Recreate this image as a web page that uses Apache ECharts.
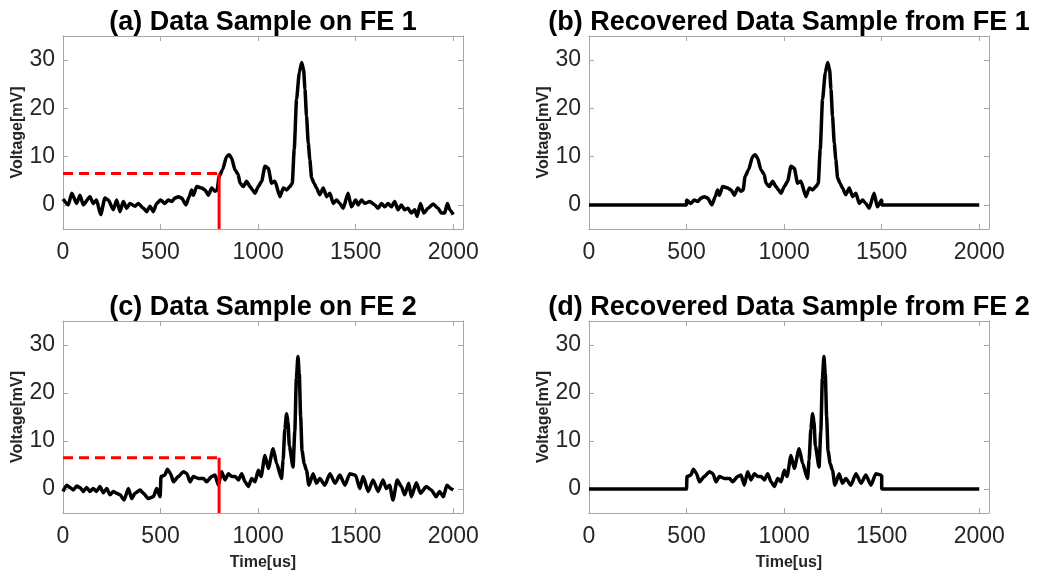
<!DOCTYPE html>
<html>
<head>
<meta charset="utf-8">
<script src="https://cdn.jsdelivr.net/npm/echarts@6/dist/echarts.min.js"></script>
<style>
  html, body { margin: 0; padding: 0; background: #fff; }
  #chart { width: 1040px; height: 575px; }
</style>
</head>
<body>
<div id="chart"></div>
<script>
// FE 1 raw sample (time in us, voltage in mV)
var fe1Time = [0, 27, 45, 70, 87, 104, 138, 155, 172, 193, 215, 232, 258, 275, 292, 309, 326, 343, 369, 386,
  412, 429, 446, 463, 480, 500, 522, 540, 557, 574, 591, 608, 630, 647, 659, 668, 685, 710, 728, 745,
  762, 779, 790, 800, 818, 838, 852, 864, 881, 898, 907, 924, 941, 958, 970, 984, 1001, 1018, 1035, 1052,
  1069, 1086, 1112, 1129, 1146, 1163, 1175, 1185, 1197, 1211, 1223, 1233, 1240, 1248, 1257, 1265, 1274, 1287, 1299, 1316,
  1334, 1351, 1368, 1385, 1402, 1419, 1436, 1461, 1478, 1500, 1513, 1530, 1547, 1572, 1598, 1615, 1632, 1649, 1666, 1683,
  1700, 1717, 1734, 1751, 1768, 1785, 1803, 1815, 1832, 1849, 1871, 1897, 1922, 1939, 1956, 1970, 1982, 2000];
var fe1Volt = [1.2, 0, 2.4, 0.3, 2, 0, 1.7, 0.3, 1, -2, 1.4, 1, -1, 1, -1.4, 0.7, -0.7, 0.3, -0.3, 0.3,
  -0.7, -1.4, -0.3, -1.4, 0.3, 1, 0.3, 1, 0.7, 1.4, 1.7, 1.4, 0, 1.7, 3.1, 2, 3.8, 3.5, 3.1, 2,
  3.5, 2.8, 3.1, 5.9, 7.3, 10, 10.4, 9.7, 7.3, 6.3, 4.5, 3.8, 4.9, 3.8, 3.2, 2.4, 3.8, 4.9, 8, 7.6,
  4.5, 4.9, 1.7, 3.5, 3.1, 3.8, 4.5, 11.5, 21.9, 27.4, 29.5, 28.1, 24, 18.4, 12.8, 9.4, 5.6, 4.5, 3.5, 2.1,
  3.5, 1.7, 2.4, 0.3, 1, 0.3, -0.7, 2.4, -0.4, 1, 0, 1, 0.3, 0.7, 0, -0.7, 0.3, -0.4, 0.3, -0.4,
  0.7, -1, 0, -1, -0.7, -1.7, -1, -2.4, 0.3, -1.7, -0.7, 0.2, -0.7, -1.7, -1.7, 0.3, -1, -2];

// FE 2 raw sample
var fe2Time = [0, 19, 36, 53, 70, 87, 104, 121, 138, 155, 172, 189, 207, 224, 241, 258, 275, 292, 313, 335,
  352, 369, 395, 412, 437, 463, 480, 498, 502, 522, 535, 551, 566, 591, 617, 635, 651, 668, 694, 720,
  736, 762, 779, 796, 813, 830, 848, 865, 882, 899, 916, 933, 950, 967, 984, 1001, 1015, 1035, 1052, 1077,
  1095, 1120, 1128, 1137, 1146, 1153, 1160, 1179, 1188, 1196, 1204, 1211, 1218, 1225, 1236, 1248, 1260, 1282, 1299, 1316,
  1342, 1368, 1394, 1419, 1445, 1470, 1496, 1500, 1521, 1538, 1564, 1589, 1615, 1640, 1657, 1674, 1691, 1713, 1734, 1751,
  1772, 1785, 1811, 1832, 1862, 1887, 1913, 1930, 1950, 1967, 1990, 2000];
var fe2Volt = [-0.5, 0.8, 0.3, -0.2, 0.6, 0.3, -0.5, 0.3, -0.5, 0.1, -0.5, 0.5, -0.8, 0.1, -1.2, -0.5, -0.9, -1.2, -2.3, 0.1,
  -2, -0.9, -0.2, -0.9, -2, -1.6, 0.1, -1.6, 2.6, 2.9, 4.1, 3.2, 1.5, 2.6, 3.6, 3.2, 1.5, 2.6, 2.2, 2.2,
  1.5, 2.6, 2.9, 0.8, 3.6, 1.9, 3.2, 2.6, 2.6, 1.9, 3.2, 1.5, 0.5, 2.2, 1.5, 3.9, 2.6, 7, 4.3, 8.4,
  5.3, 2.2, 6, 12.5, 15.7, 14, 9, 4.6, 12, 23, 27.6, 24, 15, 8, 5.3, 3.9, 0.8, 3.2, 1.2, 2.2,
  0.8, 3.2, 1.2, 2.9, 0.8, 3.2, 2.9, 2.8, 0.1, 2.6, -0.5, 1.9, -0.5, 1.9, 0.1, 0.8, -2.3, 1.9, 0.5, -1.2,
  1.2, -1.6, 1.3, -0.9, 0.5, -0.2, -1.6, -0.5, -1.6, 0.8, 0, -0.2];

// recovery window and trigger marker
var windowStart = 500, windowEnd = 1500;
var triggerTime = 800, triggerLevel = 6.5;

var titles = ['(a) Data Sample on FE 1', '(b) Recovered Data Sample from FE 1',
              '(c) Data Sample on FE 2', '(d) Recovered Data Sample from FE 2'];

function pairs(t, v) {
  return t.map(function (x, i) { return [x, v[i]]; });
}
// keep only the samples inside the recovery window, zero elsewhere
function recovered(t, v) {
  var out = [[0, 0], [windowStart, 0]];
  t.forEach(function (x, i) {
    if (x >= windowStart && x <= windowEnd) out.push([x, v[i]]);
  });
  out.push([windowEnd, 0], [2000, 0]);
  return out;
}

var panelData = [
  pairs(fe1Time, fe1Volt),
  recovered(fe1Time, fe1Volt),
  pairs(fe2Time, fe2Volt),
  recovered(fe2Time, fe2Volt)
];

var grids = [
  { left: 63, top: 36, width: 400, height: 193 },
  { left: 589, top: 36, width: 400, height: 193 },
  { left: 63, top: 321, width: 400, height: 192 },
  { left: 589, top: 321, width: 400, height: 192 }
];

var font = 'Liberation Sans, Arial, Helvetica, sans-serif';
var boxColor = '#a6a6a6';
var tickColor = '#262626';

function edge(extra) {
  var base = {
    type: 'value',
    axisLine: { show: true, onZero: false, lineStyle: { color: boxColor, width: 1 } },
    axisTick: { show: true, inside: true, length: 5, lineStyle: { color: boxColor } },
    splitLine: { show: false }
  };
  return Object.assign(base, extra);
}

var title = [], xAxis = [], yAxis = [], series = [];
grids.forEach(function (g, i) {
  title.push({
    text: titles[i], left: g.left + g.width / 2 - 5, top: g.top - 32, textAlign: 'center',
    textStyle: { fontFamily: font, fontSize: 27, fontWeight: 'bold', color: '#000' }
  });
  var bottomRow = i >= 2;
  xAxis.push(edge({
    gridIndex: i, min: 0, max: 2050, interval: 500, position: 'bottom',
    name: bottomRow ? 'Time[us]' : '', nameLocation: 'middle', nameGap: 42,
    nameTextStyle: { fontFamily: font, fontSize: 16, fontWeight: 'bold', color: '#262626' },
    axisLabel: { fontFamily: font, fontSize: 23, color: tickColor, margin: 12,
      formatter: function (v) { return v % 500 === 0 ? v : ''; } }
  }));
  xAxis.push(edge({
    gridIndex: i, min: 0, max: 2050, interval: 500, position: 'top',
    axisLabel: { show: false }
  }));
  yAxis.push(edge({
    gridIndex: i, min: -5, max: 35, splitNumber: 4, position: 'left',
    name: 'Voltage[mV]', nameLocation: 'middle', nameGap: 37,
    nameTextStyle: { fontFamily: font, fontSize: 16, fontWeight: 'bold', color: '#262626' },
    axisLabel: { fontFamily: font, fontSize: 23, color: tickColor, margin: 8,
      formatter: function (v) { return v % 10 === 0 ? v : ''; } }
  }));
  yAxis.push(edge({
    gridIndex: i, min: -5, max: 35, splitNumber: 4, position: 'right',
    axisLabel: { show: false }
  }));

  series.push({
    type: 'line', xAxisIndex: 2 * i, yAxisIndex: 2 * i, data: panelData[i],
    showSymbol: false, smooth: 0.2, smoothMonotone: 'x',
    lineStyle: { color: '#000', width: 3.5 }, z: 3
  });

  // trigger marker on the raw samples
  if (i === 0 || i === 2) {
    series.push({
      type: 'line', xAxisIndex: 2 * i, yAxisIndex: 2 * i,
      data: [[0, triggerLevel], [triggerTime, triggerLevel]],
      showSymbol: false, lineStyle: { color: '#ff0000', width: 3, type: [10, 6] }, z: 4
    });
    series.push({
      type: 'line', xAxisIndex: 2 * i, yAxisIndex: 2 * i,
      data: [[triggerTime, -5], [triggerTime, triggerLevel]],
      showSymbol: false, lineStyle: { color: '#ff0000', width: 3 }, z: 4
    });
  }
});

var chart = echarts.init(document.getElementById('chart'), null, { renderer: 'canvas' });
chart.setOption({
  animation: false,
  backgroundColor: '#fff',
  title: title,
  grid: grids,
  xAxis: xAxis,
  yAxis: yAxis,
  series: series
});
</script>
</body>
</html>
